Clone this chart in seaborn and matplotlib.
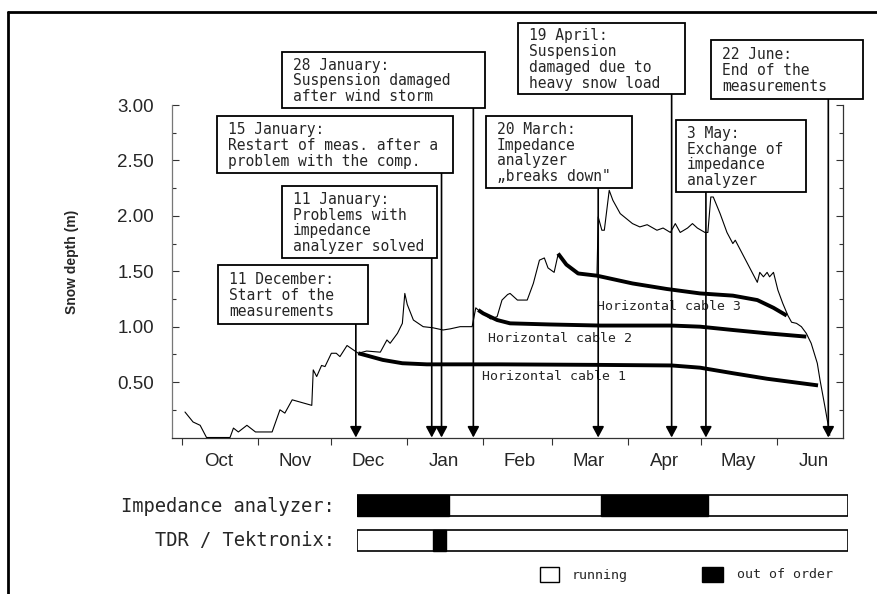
import pandas as pd
import matplotlib
matplotlib.use("Agg")
import matplotlib.pyplot as plt
import matplotlib.dates as mdates
import matplotlib.transforms as mtransforms
from matplotlib.patches import Rectangle
from matplotlib.lines import Line2D
from matplotlib.ticker import FixedLocator, FixedFormatter, NullFormatter
import seaborn as sns

# ---------------------------------------------------------------- data
season_start = pd.Timestamp("2000-10-01")

# snow depth record (days since 1 October, metres)
snow_day = [1.2, 4.5, 7.4, 10, 19.6, 21, 23, 26.5, 30, 36.8, 40, 42, 45, 53, 53.6, 55,
            57, 58.4, 61, 63, 64.5, 67.4, 70, 72, 75.4, 81, 83.7, 85, 88, 90, 91, 92,
            94.5, 98.5, 102.5, 106.6, 109.5, 113.6, 118.5, 120, 121, 123, 126, 128.7,
            130.7, 133, 134, 137, 141, 143.5, 146, 148, 149.5, 152, 153.6, 157, 161.8,
            169.5, 170, 171.5, 172.5, 174.5, 176, 179, 184, 187, 190, 194, 196.5, 199.5,
            201.5, 203.5, 206.5, 208.5, 210.5, 213.6, 214.8, 216, 217, 219.8, 222.6, 225,
            226, 235, 236, 237.5, 239, 240, 241.6, 243.4, 245.4, 247.5, 249, 251, 253,
            255, 257, 259.5, 260.6, 262.6, 263.8, 264.6]
snow_depth = [0.23, 0.14, 0.11, 0.0, 0.0, 0.085, 0.05, 0.11, 0.05, 0.05, 0.25, 0.22, 0.34,
              0.29, 0.61, 0.55, 0.65, 0.64, 0.76, 0.76, 0.73, 0.83, 0.79, 0.76, 0.78, 0.77,
              0.88, 0.85, 0.94, 1.03, 1.30, 1.20, 1.06, 1.00, 0.99, 0.97, 0.98, 1.00, 1.00,
              1.17, 1.15, 1.12, 1.07, 1.09, 1.24, 1.29, 1.30, 1.24, 1.24, 1.39, 1.60, 1.62,
              1.53, 1.49, 1.65, 1.56, 1.48, 1.46, 1.99, 1.87, 1.87, 2.23, 2.14, 2.02, 1.93,
              1.90, 1.92, 1.87, 1.89, 1.85, 1.93, 1.85, 1.89, 1.93, 1.89, 1.85, 1.85, 2.17,
              2.17, 2.02, 1.85, 1.75, 1.78, 1.40, 1.49, 1.45, 1.49, 1.45, 1.49, 1.33, 1.21,
              1.10, 1.04, 1.03, 1.00, 0.94, 0.85, 0.67, 0.52, 0.28, 0.13, 0.02]

cable1_day = [72, 75.4, 82, 90, 100, 130, 171, 200, 211.6, 225, 239, 259.8]
cable1_depth = [0.76, 0.74, 0.70, 0.67, 0.66, 0.66, 0.655, 0.65, 0.63, 0.58, 0.53, 0.47]
cable2_day = [121, 123, 128.7, 134, 150, 171, 200, 211.6, 225, 239, 255]
cable2_depth = [1.15, 1.12, 1.06, 1.03, 1.02, 1.01, 1.01, 1.00, 0.97, 0.94, 0.91]
cable3_day = [153.6, 157, 161.8, 169.5, 184, 198, 211.6, 225, 235, 241.6, 247]
cable3_depth = [1.66, 1.56, 1.48, 1.46, 1.39, 1.34, 1.30, 1.28, 1.24, 1.17, 1.10]
cable_names = ["Horizontal cable 1", "Horizontal cable 2", "Horizontal cable 3"]

month_labels = ["Oct", "Nov", "Dec", "Jan", "Feb", "Mar", "Apr", "May", "Jun"]
y_ticks = [0.5, 1.0, 1.5, 2.0, 2.5, 3.0]

event_dates = ["2000-12-11", "2001-01-11", "2001-01-15", "2001-01-28",
               "2001-03-20", "2001-04-19", "2001-05-03", "2001-06-22"]
event_texts = [
    "11 December:\nStart of the\nmeasurements",
    "11 January:\nProblems with\nimpedance\nanalyzer solved",
    "15 January:\nRestart of meas. after a\nproblem with the comp.",
    "28 January:\nSuspension damaged\nafter wind storm",
    "20 March:\nImpedance\nanalyzer\n\u201ebreaks down\"",
    "19 April:\nSuspension\ndamaged due to\nheavy snow load",
    "3 May:\nExchange of\nimpedance\nanalyzer",
    "22 June:\nEnd of the\nmeasurements",
]

instrument_names = ["Impedance analyzer:", "TDR / Tektronix:"]
record_period = ("2000-12-11", "2001-06-22")
impedance_outages = [("2000-12-11", "2001-01-16"), ("2001-03-17", "2001-04-28")]
tdr_outages = [("2001-01-10", "2001-01-15")]
legend_labels = ["running", "out of order"]

# ---------------------------------------------------------------- layout
W, H = 878, 594
sns.set_style("white")
plt.rcParams["font.family"] = ["Liberation Sans", "DejaVu Sans"]
MONO = ["DejaVu Sans Mono", "DejaVu Sans"]

fig = plt.figure(figsize=(W / 100, H / 100), dpi=100)
fig.patch.set_facecolor("white")
# pixel coordinates with the origin at the top-left corner
px = mtransforms.Affine2D().scale(1 / W, -1 / H).translate(0, 1) + fig.transFigure


def rect(l, t, r, b):
    return [l / W, 1 - b / H, (r - l) / W, (b - t) / H]


def to_dates(days):
    return season_start + pd.to_timedelta(days, unit="D")


# ---------------------------------------------------------------- main panel
ax = fig.add_axes(rect(172, 105, 843, 437.5))
snow = pd.DataFrame({"date": to_dates(snow_day), "depth": snow_depth})
sns.lineplot(data=snow, x="date", y="depth", color="black", lw=0.8, ax=ax, zorder=3)

cables = [(cable1_day, cable1_depth), (cable2_day, cable2_depth), (cable3_day, cable3_depth)]
for days, depth in cables:
    d = pd.DataFrame({"date": to_dates(days), "depth": depth})
    sns.lineplot(data=d, x="date", y="depth", color="black", lw=2.8, ax=ax, zorder=4,
                 solid_capstyle="butt")

label_spots = [(122.5, 0.546), (124.9, 0.89), (169.5, 1.186)]
for (d, v), name in zip(label_spots, cable_names):
    ax.text(to_dates([d])[0], v, name, family=MONO, fontsize=9.5, ha="left",
            va="center", zorder=6)

ax.set_xlim(season_start - pd.Timedelta(days=4.1), season_start + pd.Timedelta(days=270))
ax.set_ylim(0, 3.0)
ax.set_xlabel("")
ax.set_ylabel("")

ax.xaxis.set_major_locator(mdates.MonthLocator())
ax.xaxis.set_major_formatter(NullFormatter())
mid_months = [mdates.date2num(pd.Timestamp(season_start.year, 10, 16) + pd.DateOffset(months=i))
              for i in range(len(month_labels))]
ax.xaxis.set_minor_locator(FixedLocator(mid_months))
ax.xaxis.set_minor_formatter(FixedFormatter(month_labels))
ax.tick_params(axis="x", which="major", bottom=True, direction="out", length=5,
               width=0.8, color="#333333")
ax.tick_params(axis="x", which="minor", bottom=True, length=0, pad=11, labelsize=13.5)

ax.set_yticks(y_ticks)
ax.set_yticklabels([f"{v:.2f}" for v in y_ticks])
ax.yaxis.set_minor_locator(FixedLocator([0.25, 0.75, 1.25, 1.75, 2.25, 2.75]))
ax.tick_params(axis="y", which="both", left=True, right=True, direction="in",
               labelsize=13.5, pad=13, color="#333333")
ax.tick_params(axis="y", which="major", length=5, width=0.8)
ax.tick_params(axis="y", which="minor", length=3, width=0.8)

ax.spines["top"].set_visible(False)
for side in ("left", "right", "bottom"):
    ax.spines[side].set_color("#333333")
    ax.spines[side].set_linewidth(0.9)
ax.spines["left"].set_color("#777777")

fig.text(72, 262, "Snow depth (m)", transform=px, rotation=90, ha="center",
         va="center", fontsize=10, fontweight="bold")

# ---------------------------------------------------------------- event boxes
box_px = [(218, 265, 368, 324), (282, 186, 437, 258), (217, 116, 453, 173),
          (282, 52, 485, 108), (486, 116, 632, 188), (518, 23, 685, 94),
          (676, 120, 806, 192), (711, 40, 863, 99)]
arrow_tf = mtransforms.blended_transform_factory(ax.transData, px)
for (l, t, r, b), txt, date in zip(box_px, event_texts, event_dates):
    fig.add_artist(Rectangle((l, t), r - l, b - t, transform=px, facecolor="white",
                             edgecolor="black", lw=1.3, zorder=5))
    fig.text(l + 11, (t + b) / 2 + 1, txt, transform=px, ha="left", va="center",
             family=MONO, fontsize=10.5, linespacing=1.08, zorder=6)
    xd = mdates.date2num(pd.Timestamp(date))
    ax.annotate("", xy=(xd, 0), xycoords="data", xytext=(xd, b), textcoords=arrow_tf,
                annotation_clip=False, zorder=7,
                arrowprops=dict(arrowstyle="-|>,head_length=0.65,head_width=0.35",
                                color="black", lw=1.2, shrinkA=0, shrinkB=0,
                                mutation_scale=10))

# ---------------------------------------------------------------- instrument status bars
axb = fig.add_axes(rect(357, 488, 848, 558))
p0, p1 = (mdates.date2num(pd.Timestamp(s)) for s in record_period)
axb.set_xlim(p0, p1)
axb.set_ylim(1.5, -0.5)
axb.axis("off")
for i, outages in enumerate([impedance_outages, tdr_outages]):
    axb.barh(i, p1 - p0, left=p0, height=0.6, color="white", edgecolor="black", lw=1.2)
    for s, e in outages:
        s0, e0 = mdates.date2num(pd.Timestamp(s)), mdates.date2num(pd.Timestamp(e))
        axb.barh(i, e0 - s0, left=s0, height=0.6, color="black", edgecolor="black", lw=1.0)
    fig.text(335, 506 + 35 * i, instrument_names[i], transform=px, ha="right",
             va="center", family=MONO, fontsize=13.5)

# legend
fig.add_artist(Rectangle((540, 567), 19, 15, transform=px, facecolor="white",
                         edgecolor="black", lw=1.0))
fig.text(572, 575, legend_labels[0], transform=px, ha="left", va="center",
         family=MONO, fontsize=9.5)
fig.add_artist(Rectangle((702, 567), 21, 15, transform=px, facecolor="black",
                         edgecolor="black", lw=1.0))
fig.text(737, 575, legend_labels[1], transform=px, ha="left", va="center",
         family=MONO, fontsize=9.5)

# outer frame (top and left edges)
fig.add_artist(Line2D([8, W], [12, 12], transform=px, color="black", lw=2))
fig.add_artist(Line2D([8, 8], [12, H], transform=px, color="black", lw=2))

fig.savefig("out.png", dpi=100)
